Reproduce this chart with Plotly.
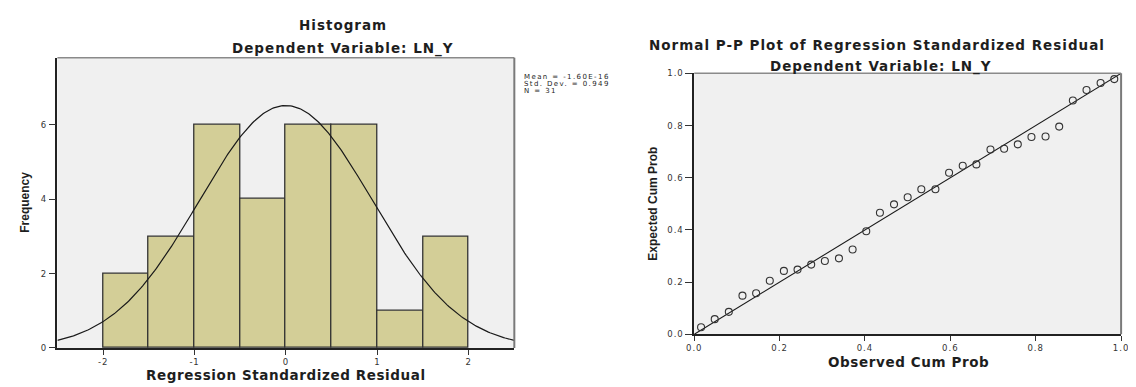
import numpy as np
import plotly.graph_objects as go

# ---------------- data ----------------
bin_left = [-2.0, -1.5, -1.0, -0.5, 0.0, 0.5, 1.0, 1.5]
bin_counts = [2, 3, 6, 4, 6, 6, 1, 3]
bin_width = 0.5
res_mean = -1.60e-16
res_sd = 0.949
res_n = 31

observed_cum = [0.016, 0.048, 0.081, 0.113, 0.145, 0.177, 0.210, 0.242, 0.274, 0.306,
                0.339, 0.371, 0.403, 0.435, 0.468, 0.500, 0.532, 0.565, 0.597, 0.629,
                0.661, 0.694, 0.726, 0.758, 0.790, 0.823, 0.855, 0.887, 0.919, 0.952, 0.984]
expected_cum = [0.027, 0.058, 0.086, 0.148, 0.157, 0.205, 0.243, 0.248, 0.267, 0.281,
                0.291, 0.325, 0.395, 0.466, 0.498, 0.525, 0.556, 0.556, 0.619, 0.646,
                0.651, 0.708, 0.711, 0.728, 0.756, 0.758, 0.796, 0.896, 0.936, 0.963, 0.978]

hist_xticks = [-2, -1, 0, 1, 2]
hist_yticks = [0, 2, 4, 6]
pp_ticks = [0.0, 0.2, 0.4, 0.6, 0.8, 1.0]
pp_ticklabels = ["0.0", "0.2", "0.4", "0.6", "0.8", "1.0"]

# ---------------- figure ----------------
PAGE_MARGIN = 8            # default <body> margin of the written page
W, H = 1136 - PAGE_MARGIN, 387 - PAGE_MARGIN
BAR = "#d3ce97"
BG = "#f0f0f0"
TXT = "#1e1e1e"
TICKFONT = dict(family="DejaVu Sans", size=8.5, color="#333333")
BOLD = "DejaVu Sans"


def spaced(s, ls):
    return f'<span style="letter-spacing:{ls}px">{s}</span>'


fig = go.Figure()

centers = [b + bin_width / 2 for b in bin_left]
fig.add_trace(go.Bar(x=centers, y=bin_counts, width=[bin_width] * len(centers),
                     marker=dict(color=BAR, line=dict(color="#333333", width=1.3)),
                     xaxis="x", yaxis="y", showlegend=False, hoverinfo="skip"))

xs = np.linspace(-2.5, 2.5, 301)
ys = res_n * bin_width * np.exp(-0.5 * ((xs - res_mean) / res_sd) ** 2) / (res_sd * np.sqrt(2 * np.pi))
fig.add_trace(go.Scatter(x=xs, y=ys, mode="lines", line=dict(color="#1a1a1a", width=1.2),
                         xaxis="x", yaxis="y", showlegend=False, hoverinfo="skip"))

fig.add_trace(go.Scatter(x=[0, 1], y=[0, 1], mode="lines", line=dict(color="#1a1a1a", width=1.1),
                         xaxis="x2", yaxis="y2", showlegend=False, hoverinfo="skip", cliponaxis=False))
fig.add_trace(go.Scatter(x=observed_cum, y=expected_cum, mode="markers",
                         marker=dict(symbol="circle-open", size=7, color="#333333", line=dict(width=1.1)),
                         xaxis="x2", yaxis="y2", showlegend=False, hoverinfo="skip", cliponaxis=False))


def px_x(p):
    return (p - PAGE_MARGIN) / W


def px_y(p):
    return 1 - (p - PAGE_MARGIN) / H


axis_common = dict(showgrid=False, zeroline=False, showline=True, linecolor="#222222", linewidth=1.5,
                   ticks="outside", tickcolor="#333333", tickwidth=1, tickfont=TICKFONT, mirror=False,
                   ticklabeloverflow="allow")

fig.update_layout(
    width=W, height=H, margin=dict(l=0, r=0, t=0, b=0),
    paper_bgcolor="white", plot_bgcolor=BG, bargap=0,
    xaxis=dict(domain=[px_x(50), px_x(513.5)], range=[-2.5, 2.5], tickvals=hist_xticks,
               ticktext=[spaced(str(v), 0.8) for v in hist_xticks],
               ticklen=5, anchor="y", **axis_common),
    yaxis=dict(domain=[px_y(352), px_y(54)], range=[0, 7.8], tickvals=hist_yticks,
               ticktext=[spaced(str(v), 0.8) for v in hist_yticks],
               ticklen=7, anchor="x", **axis_common),
    xaxis2=dict(domain=[px_x(696), px_x(1129)], range=[0, 1], tickvals=pp_ticks,
                ticktext=[spaced(t, 1) for t in pp_ticklabels],
                ticklen=5, anchor="y2", **axis_common),
    yaxis2=dict(domain=[px_y(338), px_y(70)], range=[0, 1], tickvals=pp_ticks,
                ticktext=[spaced(t, 1) for t in pp_ticklabels],
                ticklen=7, anchor="x2", **axis_common),
)

# gray frame (top/right)
for xr, yr in (("x", "y"), ("x2", "y2")):
    fig.add_shape(type="line", xref=f"{xr} domain", yref=f"{yr} domain", x0=0, x1=1, y0=1, y1=1,
                  line=dict(color="#8a8a8a", width=1.5))
    fig.add_shape(type="line", xref=f"{xr} domain", yref=f"{yr} domain", x0=1, x1=1, y0=0, y1=1,
                  line=dict(color="#7a7a7a", width=2))


def ann(text, x, y, size, bold=True, angle=0, xanchor="center", family=BOLD, ls=0.0):
    t = f"<b>{text}</b>" if bold else text
    if ls:
        t = spaced(t, ls)
    fig.add_annotation(text=t, x=px_x(x), y=px_y(y),
                       xref="paper", yref="paper", showarrow=False, textangle=angle,
                       xanchor=xanchor, yanchor="middle",
                       font=dict(family=family, size=size, color=TXT))


ann("Histogram", 340, 20, 13.5, ls=1)
ann("Dependent Variable: LN_Y", 340, 44, 13.5, ls=1)
ann("Regression Standardized Residual", 282, 380, 13.5, ls=0.6)
ann("Frequency", 17, 202, 12, angle=-90, family="Liberation Sans")

ann("Mean = -1.60E-16", 521, 74, 7, bold=False, xanchor="left", family="DejaVu Sans", ls=1.4)
ann("Std. Dev. = 0.949", 521, 81, 7, bold=False, xanchor="left", family="DejaVu Sans", ls=1.4)
ann("N = 31", 521, 88, 7, bold=False, xanchor="left", family="DejaVu Sans", ls=1.4)

ann("Normal P-P Plot of Regression Standardized Residual", 881, 41, 13.5, ls=1)
ann("Dependent Variable: LN_Y", 885, 63, 13.5, ls=1)
ann("Observed Cum Prob", 913, 366, 13.5, ls=0.6)
ann("Expected Cum Prob", 654, 204, 12, angle=-90, family="Liberation Sans")

fig.write_html("out.html")
